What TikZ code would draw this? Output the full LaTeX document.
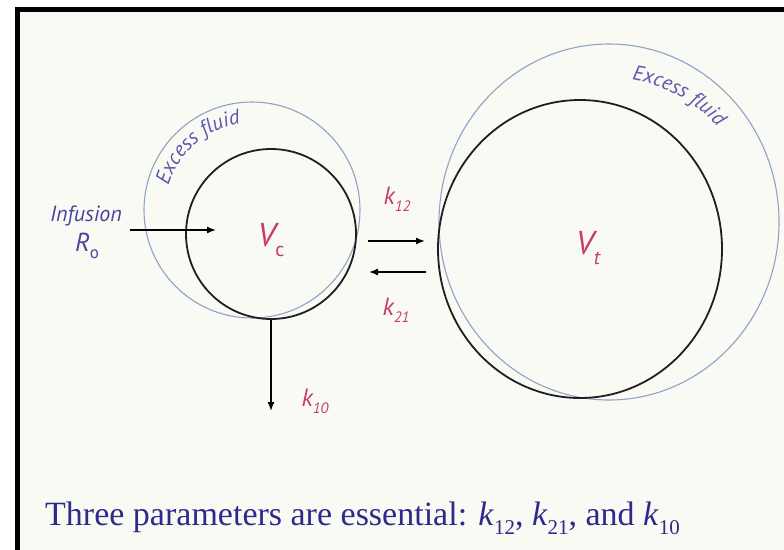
\documentclass[tikz,border=0pt]{standalone}
\usepackage{fontspec}
\setmainfont{Liberation Serif}
\newfontfamily\labfont{PT Sans}
\usetikzlibrary{arrows.meta,decorations.text,shapes.geometric}
\definecolor{cream}{HTML}{FAFAF4}
\definecolor{fluidtxt}{HTML}{5E57AE}
\definecolor{fluidline}{HTML}{8CA3C6}
\definecolor{kred}{HTML}{C93A6E}
\definecolor{captxt}{HTML}{2E2A8C}
\definecolor{inftxt}{HTML}{4A44A0}
\newcommand\lsub[2]{\raisebox{-0.28em}{\fontsize{#1}{#1}\selectfont #2}}
\begin{document}
\begin{tikzpicture}[x=1pt,y=1pt,
  comp/.style={draw=black!88, line width=1.8pt, inner sep=0pt},
  fluid/.style={draw=fluidline, line width=1.1pt, inner sep=0pt},
  flow/.style={draw=black, line width=1.4pt, -{Latex[length=9pt,width=7pt]}},
  klab/.style={text=kred, font=\labfont\itshape\fontsize{25}{25}\selectfont, inner sep=0pt},
  vlab/.style={text=kred, font=\labfont\itshape\fontsize{33}{33}\selectfont, inner sep=0pt},
  inflab/.style={text=inftxt, font=\labfont\itshape\fontsize{22}{22}\selectfont, inner sep=0pt},
  rlab/.style={text=inftxt, font=\labfont\itshape\fontsize{26}{26}\selectfont, inner sep=0pt},
  caption/.style={text=captxt, font=\fontsize{34}{34}\selectfont, inner sep=0pt, anchor=base west},
  fluidtext/.style={decorate, decoration={text along path, text align=center,
     text={|\labfont\itshape\fontsize{21}{21}\selectfont\color{fluidtxt}|Excess fluid}}}
]
\clip (0,0) rectangle (784,-549);
\fill[white] (0,0) rectangle (784,-549);
\draw[fill=cream, line width=5pt] (17.5,-9.5) rectangle (820,-600);
\useasboundingbox (0,0) rectangle (784,-549);

% excess fluid envelopes
\node[fluid, circle, minimum size=216pt] (xc) at (252,-210) {};
\node[fluid, ellipse, minimum width=340pt, minimum height=356pt] (xt) at (609,-222) {};

% compartments
\node[comp, circle, minimum size=170pt] (vc) at (271,-234) {};
\node[comp, ellipse, minimum width=284pt, minimum height=298pt] (vt) at (580,-249) {};

% curved labels
\path[fluidtext] (252,-210) ++(175:87) arc[start angle=175, end angle=86, radius=87];
\path[fluidtext] (609,-222) ++(92:144) arc[start angle=92, end angle=30, radius=144];

% labels
\node[vlab] (vcl) at (271,-240) {V\lsub{20}{\upshape c}};
\node[vlab] (vtl) at (588,-248) {V\lsub{20}{t}};
\node[inflab] (inf) at (86,-216) {Infusion};
\node[rlab] (ro) at (87,-246) {R\lsub{17}{\upshape o}};
\node[klab] (k12) at (397,-199) {k\lsub{15}{12}};
\node[klab] (k21) at (396,-310) {k\lsub{15}{21}};
\node[klab] (k10) at (315,-401) {k\lsub{15}{10}};

% flows
\coordinate (infs) at (130,-230);
\coordinate (infe) at (216,-230);
\draw[flow] (infs) -- (infe);
\coordinate (k12s) at (368,-241);
\coordinate (k12e) at (425,-241);
\draw[flow] (k12s) -- (k12e);
\coordinate (k21s) at (426,-272);
\coordinate (k21e) at (369,-272);
\draw[flow] (k21s) -- (k21e);
\coordinate (k10y) at (0,-411);
\draw[flow] (vc.south) -- (vc.south |- k10y);

% caption
\node[caption] (cap) at (45,-525) {Three parameters are essential: \textit{k}\lsub{21}{12}, \textit{k}\lsub{21}{21}, and \textit{k}\lsub{21}{10}};
\end{tikzpicture}
\end{document}
